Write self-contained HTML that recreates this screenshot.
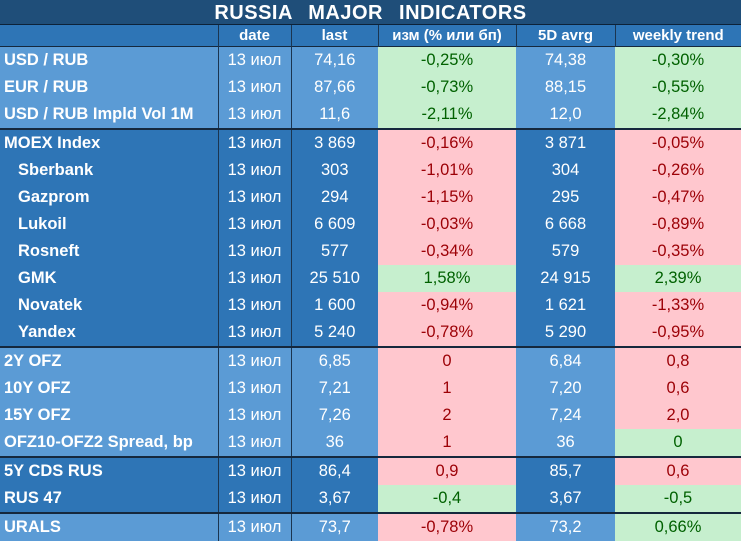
<!DOCTYPE html>
<html><head><meta charset="utf-8">
<style>
body{margin:0;width:741px;height:534px;overflow:hidden;background:#5b9bd5;font-family:"Liberation Sans","Noto Sans CJK SC",sans-serif;}
#title{position:absolute;left:0;top:0;width:741px;height:25px;background:#1f4e79;color:#fff;font-weight:bold;font-size:20px;line-height:26px;text-align:center;letter-spacing:0.5px;word-spacing:10px;border-bottom:1px solid #0d2238;box-sizing:border-box}
table{position:absolute;left:0;top:25px;border-collapse:collapse;table-layout:fixed;width:741px}
td,th{padding:0;height:27px;font-size:16.5px;text-align:center;color:#fff;white-space:nowrap;overflow:hidden;font-weight:normal}
th{height:21px;font-weight:bold;font-size:15px;background:#2e75b6;border-left:1px solid #1b3550;line-height:21px}
td.l{text-align:left;font-weight:bold;padding-left:4px;}
td.i{padding-left:18px}
td.d{border-left:1px solid #1b3550;border-right:1px solid #1b3550}
.g{background:#c6efce;color:#006100}
.r{background:#ffc7ce;color:#9c0006}
tr.A td{background:#5b9bd5}
tr.B td{background:#2e75b6}
tr.A td.g,tr.B td.g{background:#c6efce}
tr.A td.r,tr.B td.r{background:#ffc7ce}
tr.top td{border-top:2px solid #15283d}
tr.hd{border-bottom:1px solid #15283d}
</style></head><body>
<div id="title">RUSSIA MAJOR INDICATORS</div>
<table>
<colgroup><col style="width:218px"><col style="width:73px"><col style="width:87px"><col style="width:138px"><col style="width:99px"><col style="width:126px"></colgroup>
<tr class="hd"><th style="border-left:none"></th><th>date</th><th>last</th><th>изм (% или бп)</th><th>5D avrg</th><th>weekly trend</th></tr>
<tr class="A"><td class="l">USD / RUB</td><td class="d">13 июл</td><td>74,16</td><td class="g">-0,25%</td><td>74,38</td><td class="g">-0,30%</td></tr>
<tr class="A"><td class="l">EUR / RUB</td><td class="d">13 июл</td><td>87,66</td><td class="g">-0,73%</td><td>88,15</td><td class="g">-0,55%</td></tr>
<tr class="A"><td class="l">USD / RUB Impld Vol 1M</td><td class="d">13 июл</td><td>11,6</td><td class="g">-2,11%</td><td>12,0</td><td class="g">-2,84%</td></tr>
<tr class="B top"><td class="l">MOEX Index</td><td class="d">13 июл</td><td>3 869</td><td class="r">-0,16%</td><td>3 871</td><td class="r">-0,05%</td></tr>
<tr class="B"><td class="l i">Sberbank</td><td class="d">13 июл</td><td>303</td><td class="r">-1,01%</td><td>304</td><td class="r">-0,26%</td></tr>
<tr class="B"><td class="l i">Gazprom</td><td class="d">13 июл</td><td>294</td><td class="r">-1,15%</td><td>295</td><td class="r">-0,47%</td></tr>
<tr class="B"><td class="l i">Lukoil</td><td class="d">13 июл</td><td>6 609</td><td class="r">-0,03%</td><td>6 668</td><td class="r">-0,89%</td></tr>
<tr class="B"><td class="l i">Rosneft</td><td class="d">13 июл</td><td>577</td><td class="r">-0,34%</td><td>579</td><td class="r">-0,35%</td></tr>
<tr class="B"><td class="l i">GMK</td><td class="d">13 июл</td><td>25 510</td><td class="g">1,58%</td><td>24 915</td><td class="g">2,39%</td></tr>
<tr class="B"><td class="l i">Novatek</td><td class="d">13 июл</td><td>1 600</td><td class="r">-0,94%</td><td>1 621</td><td class="r">-1,33%</td></tr>
<tr class="B"><td class="l i">Yandex</td><td class="d">13 июл</td><td>5 240</td><td class="r">-0,78%</td><td>5 290</td><td class="r">-0,95%</td></tr>
<tr class="A top"><td class="l">2Y OFZ</td><td class="d">13 июл</td><td>6,85</td><td class="r">0</td><td>6,84</td><td class="r">0,8</td></tr>
<tr class="A"><td class="l">10Y OFZ</td><td class="d">13 июл</td><td>7,21</td><td class="r">1</td><td>7,20</td><td class="r">0,6</td></tr>
<tr class="A"><td class="l">15Y OFZ</td><td class="d">13 июл</td><td>7,26</td><td class="r">2</td><td>7,24</td><td class="r">2,0</td></tr>
<tr class="A"><td class="l">OFZ10-OFZ2 Spread, bp</td><td class="d">13 июл</td><td>36</td><td class="r">1</td><td>36</td><td class="g">0</td></tr>
<tr class="B top"><td class="l">5Y CDS RUS</td><td class="d">13 июл</td><td>86,4</td><td class="r">0,9</td><td>85,7</td><td class="r">0,6</td></tr>
<tr class="B"><td class="l">RUS 47</td><td class="d">13 июл</td><td>3,67</td><td class="g">-0,4</td><td>3,67</td><td class="g">-0,5</td></tr>
<tr class="A top"><td class="l">URALS</td><td class="d">13 июл</td><td>73,7</td><td class="r">-0,78%</td><td>73,2</td><td class="g">0,66%</td></tr>
</table>
</body></html>
